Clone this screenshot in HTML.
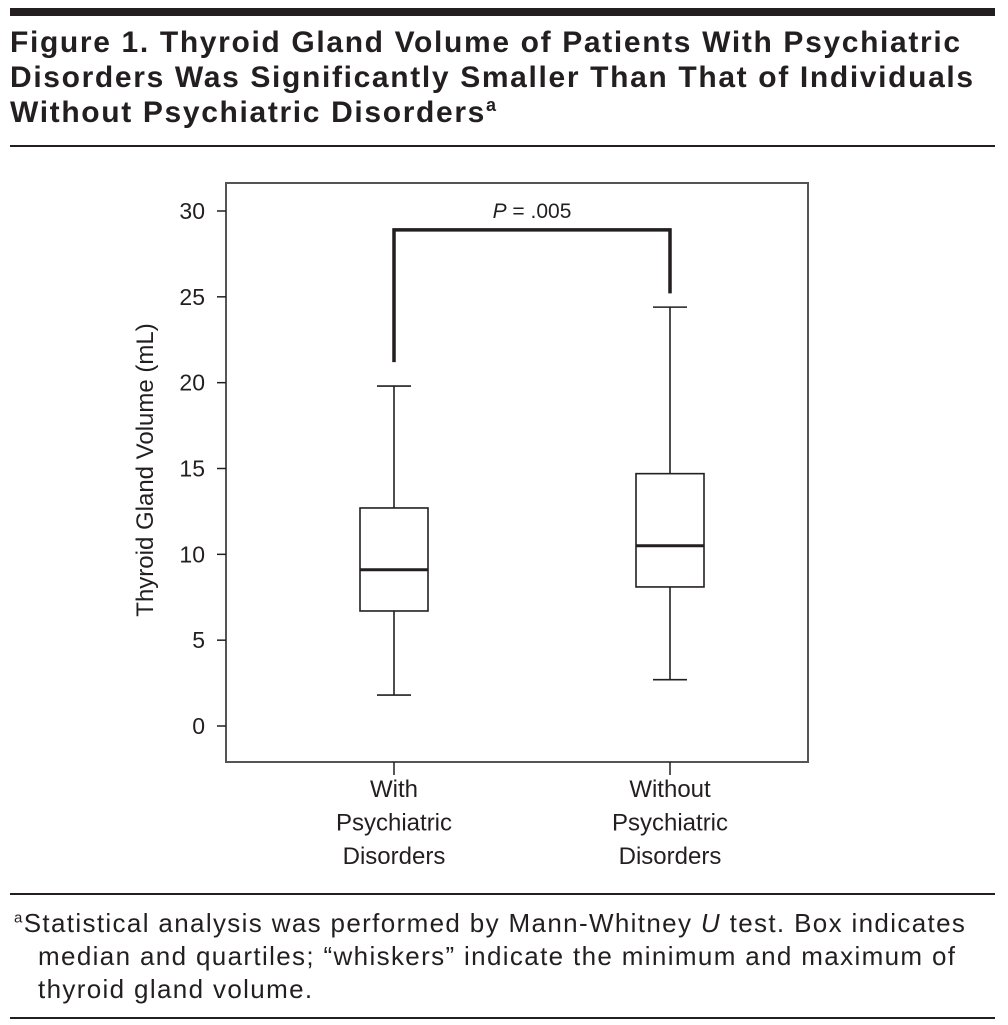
<!DOCTYPE html>
<html><head><meta charset="utf-8"><style>
body{margin:0;background:#fff;width:1008px;height:1025px;overflow:hidden;font-family:"Liberation Sans",sans-serif;}
.abs{position:absolute}
.tl{white-space:nowrap;height:35px}
</style></head><body>
<div class="abs" style="left:10px;top:8px;width:985px;height:8px;background:#231f20"></div>
<div class="abs" style="left:10px;top:25px;width:990px;font-weight:bold;font-size:30px;line-height:35px;color:#231f20;letter-spacing:1.65px">
<div class="tl">Figure 1. Thyroid Gland Volume of Patients With Psychiatric</div>
<div class="tl">Disorders Was Significantly Smaller Than That of Individuals</div>
<div class="tl">Without Psychiatric Disorders<sup style="font-size:18px;line-height:0">a</sup></div>
</div>
<div class="abs" style="left:10px;top:145px;width:985px;height:2px;background:#231f20"></div>
<svg class="abs" style="left:0;top:0" width="1008" height="1025">
<g id="chart" font-family="Liberation Sans, sans-serif" fill="#231f20"></g>
</svg>
<div class="abs" style="left:10px;top:893px;width:985px;height:2px;background:#231f20"></div>
<div class="abs" style="left:14px;top:907px;width:990px;font-size:26px;line-height:33px;color:#231f20;letter-spacing:1.35px;white-space:nowrap">
<div><sup style="font-size:15px;line-height:0">a</sup>Statistical analysis was performed by Mann-Whitney <i>U</i> test. Box indicates</div>
<div style="padding-left:24px">median and quartiles; “whiskers” indicate the minimum and maximum of</div>
<div style="padding-left:24px">thyroid gland volume.</div>
</div>
<div class="abs" style="left:10px;top:1017px;width:985px;height:2px;background:#231f20"></div>
<script>
const categories=[["With","Psychiatric","Disorders"],["Without","Psychiatric","Disorders"]];
const mins=[1.8,2.7];
const q1s=[6.7,8.1];
const medians=[9.1,10.5];
const q3s=[12.7,14.7];
const maxs=[19.8,24.4];
const yTicks=[0,5,10,15,20,25,30];
const pLabel="= .005";
const bracketY=28.9, bracketLeftBottom=21.2, bracketRightBottom=25.2;
const ns="http://www.w3.org/2000/svg";
const g=document.getElementById('chart');
const y=v=>726-v*(726-211)/30;
const xs=[394,670];
function el(t,a){const e=document.createElementNS(ns,t);for(const k in a)e.setAttribute(k,a[k]);g.appendChild(e);return e;}
let f=el('rect',{x:226,y:183,width:582,height:579,fill:'none',stroke:'#555',"stroke-width":2});


yTicks.forEach(v=>{
 let l=el('line',{x1:217,x2:226,y1:y(v),y2:y(v),stroke:'#231f20',"stroke-width":1.5});
 
 
 let t=el('text',{x:205,y:y(v)+8,"text-anchor":"end","font-size":23});
 t.textContent=v;
 
 
});
let yl=el('text',{transform:'translate(153,470) rotate(-90)',"text-anchor":"middle","font-size":24});
yl.textContent='Thyroid Gland Volume (mL)';


categories.forEach((c,i)=>{
 const cx=xs[i],hw=34;
 let tk=el('line',{x1:cx,x2:cx,y1:762,y2:775,stroke:'#231f20',"stroke-width":1.5});
 
 
 c.forEach((s,j)=>{let t=el('text',{x:cx,y:797+j*33.5,"text-anchor":"middle","font-size":24});t.textContent=s;
  
  });
 const st={stroke:'#231f20',"stroke-width":1.6,fill:'none'};
 let w1=el('line',Object.assign({x1:cx,x2:cx,y1:y(maxs[i]),y2:y(q3s[i])},st));
 
 
 let w2=el('line',Object.assign({x1:cx,x2:cx,y1:y(q1s[i]),y2:y(mins[i])},st));
 
 
 [maxs[i],mins[i]].forEach(v=>{let c2=el('line',Object.assign({x1:cx-17,x2:cx+17,y1:y(v),y2:y(v)},st));
  
  });
 let b=el('rect',Object.assign({x:cx-hw,y:y(q3s[i]),width:hw*2,height:y(q1s[i])-y(q3s[i])},st));
 
 
 let m=el('line',{x1:cx-hw,x2:cx+hw,y1:y(medians[i]),y2:y(medians[i]),stroke:'#231f20',"stroke-width":3});
 
 
});
let br=el('polyline',{points:`${xs[0]},${y(bracketLeftBottom)} ${xs[0]},${y(bracketY)} ${xs[1]},${y(bracketY)} ${xs[1]},${y(bracketRightBottom)}`,fill:'none',stroke:'#231f20',"stroke-width":3.5});


let p=el('text',{x:(xs[0]+xs[1])/2,y:y(bracketY)-12,"text-anchor":"middle","font-size":21});
p.innerHTML='<tspan font-style="italic">P</tspan> '+pLabel;


</script>
</body></html>
